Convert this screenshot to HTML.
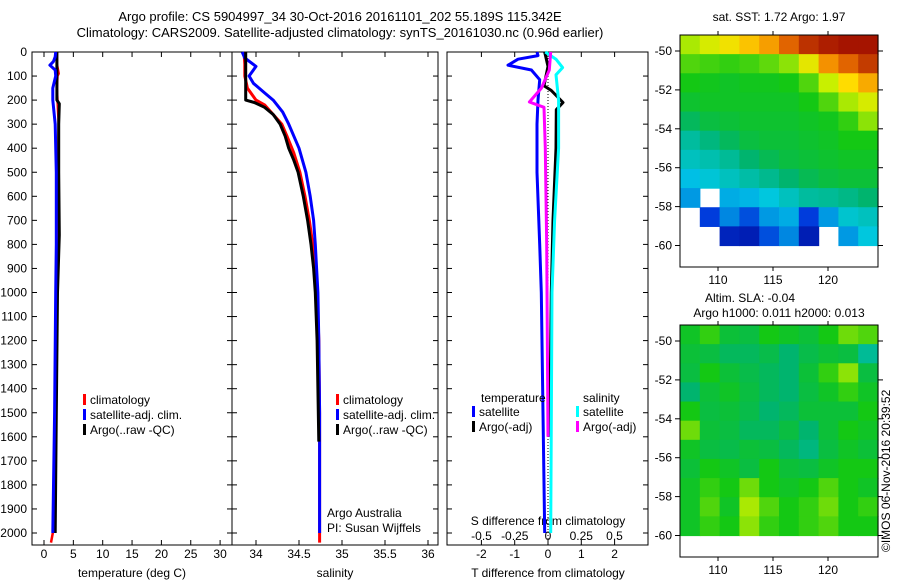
<!DOCTYPE html>
<html><head><meta charset="utf-8"><style>
body{margin:0;background:#fff;}
svg{display:block;font-family:"Liberation Sans",sans-serif;font-size:12px;}
</style></head><body>
<svg id="c" width="900" height="580" viewBox="0 0 900 580">
<text x="340" y="21" text-anchor="middle" font-size="13">Argo profile: CS 5904997_34 30-Oct-2016 20161101_202 55.189S 115.342E</text>
<text x="340" y="37" text-anchor="middle" font-size="13">Climatology: CARS2009. Satellite-adjusted climatology: synTS_20161030.nc (0.96d earlier)</text>
<text x="779" y="21" text-anchor="middle">sat. SST: 1.72 Argo: 1.97</text>
<text x="750" y="302" text-anchor="middle">Altim. SLA: -0.04</text>
<text x="779" y="317" text-anchor="middle">Argo h1000: 0.011 h2000: 0.013</text>
<text transform="translate(890,552) rotate(-90)">©IMOS 06-Nov-2016 20:39:52</text>
</svg>
<script>
// ---- data ----
const depthTicks=[0,100,200,300,400,500,600,700,800,900,1000,1100,1200,1300,1400,1500,1600,1700,1800,1900,2000];
const tempTicks=[0,5,10,15,20,25,30];
const salTicks=[34,34.5,35,35.5,36];
const salTickLabels=["34","34.5","35","35.5","36"];
const tdiffTicks=[-2,-1,0,1,2];
const sdiffTicks=[-0.5,-0.25,0,0.25,0.5];
const sdiffTickLabels=["-0.5","-0.25","0","0.25","0.5"];

const tClimD=[0,50,90,100,150,200,250,300,500,800,1000,1500,2000,2040];
const tClimV=[2.2,2.2,2.5,2.3,2.2,2.3,2.4,2.5,2.4,2.3,2.2,1.9,1.5,1.2];
const tSatD=[0,20,40,55,75,100,150,200,300,500,800,1000,1500,2000];
const tSatV=[2.0,1.9,1.6,1.0,1.9,2.0,1.5,1.5,1.9,2.1,2.1,2.0,1.8,1.5];
const tArgoD=[0,100,200,215,300,500,760,1000,1500,2000];
const tArgoV=[2.2,2.2,2.2,2.6,2.5,2.5,2.6,2.3,2.1,1.9];

const sClimD=[0,50,100,150,200,220,260,300,350,420,500,600,700,800,900,1000,1200,1500,2040];
const sClimV=[33.86,33.87,33.87,33.9,34.0,34.1,34.2,34.3,34.36,34.44,34.51,34.57,34.62,34.66,34.69,34.71,34.73,34.74,34.74];
const sSatD=[0,25,60,100,130,170,200,250,300,400,500,600,700,800,1000,1200,1500,2000];
const sSatV=[33.84,33.87,34.0,33.92,33.97,34.1,34.2,34.31,34.38,34.5,34.58,34.63,34.67,34.69,34.72,34.73,34.74,34.74];
const sArgoD=[0,100,200,210,230,260,300,350,400,450,500,600,700,800,900,1000,1200,1620];
const sArgoV=[33.88,33.88,33.88,33.98,34.1,34.2,34.28,34.34,34.38,34.44,34.49,34.55,34.6,34.64,34.67,34.69,34.71,34.73];

const dTSatD=[0,15,30,55,75,115,200,300,500,800,1000,1500,2000];
const dTSatV=[-0.33,-0.3,-0.9,-1.2,-0.5,-0.25,-0.3,-0.33,-0.33,-0.25,-0.2,-0.15,-0.1];
const dTArgoD=[0,60,140,160,210,240,400,700,1000,1600];
const dTArgoV=[-0.1,0,-0.12,0.1,0.45,0.25,0.24,0.15,0.1,0.05];
const dSSatD=[0,30,65,95,200,400,700,1000,2000];
const dSSatV=[-0.02,0.06,0.11,0.06,0.08,0.08,0.05,0.03,0.02];
const dSArgoD=[0,75,150,208,230,400,800,1600];
const dSArgoV=[0.02,0.01,-0.05,-0.14,-0.03,-0.02,-0.01,0];

const lonTicks=[110,115,120];
const latTicks=[-50,-52,-54,-56,-58,-60];
const sstGrid=[
[.7,.74,.78,.82,.85,.9,.95,.97,.98,.98],
[.64,.63,.62,.63,.65,.68,.76,.86,.9,.94],
[.6,.59,.58,.59,.59,.6,.64,.72,.8,.84],
[.57,.58,.58,.58,.58,.58,.6,.64,.7,.74],
[.52,.55,.56,.57,.57,.57,.58,.59,.62,.68],
[.44,.48,.52,.55,.56,.56,.57,.58,.6,.6],
[.4,.42,.45,.5,.53,.55,.56,.57,.58,.58],
[.34,.37,.4,.43,.46,.5,.53,.55,.56,.56],
[.3,null,.32,.33,.36,.4,.44,.45,.47,.5],
[null,.2,.28,.22,.3,.32,.2,.3,.38,.4],
[null,null,.12,.1,.22,.28,.1,null,.3,.36]];
const slaGrid=[
[.58,.62,.56,.55,.6,.58,.56,.6,.66,.64],
[.56,.55,.52,.52,.54,.5,.54,.56,.55,.45],
[.55,.6,.56,.54,.52,.5,.56,.62,.68,.55],
[.5,.56,.58,.55,.52,.5,.55,.58,.62,.58],
[.6,.55,.56,.54,.5,.52,.56,.56,.56,.6],
[.66,.56,.55,.52,.52,.55,.5,.56,.6,.58],
[.58,.55,.54,.56,.55,.52,.48,.55,.58,.56],
[.56,.6,.58,.55,.6,.56,.55,.58,.6,.6],
[.58,.62,.6,.66,.6,.58,.6,.64,.6,.58],
[.58,.64,.58,.7,.64,.6,.62,.66,.6,.62],
[.58,.62,.6,.68,.62,.6,.62,.64,.6,.6]];

// ---- drawing ----
const NS="http://www.w3.org/2000/svg";
const svg=document.getElementById('c');
function el(tag,attrs,parent){const e=document.createElementNS(NS,tag);for(const k in attrs)e.setAttribute(k,attrs[k]);(parent||svg).appendChild(e);return e;}
const yD=d=>52+d*0.2405;
const PB=545;

function frame(x0,x1,name){
  const r=el('rect',{x:x0,y:52,width:x1-x0,height:PB-52,fill:'none',stroke:'#000','stroke-width':1});
  
  
}
function xTicks(xf,vals,labels,ly,name){
  vals.forEach((v,i)=>{
    el('line',{x1:xf(v),x2:xf(v),y1:PB,y2:PB-5,stroke:'#000'});
    el('line',{x1:xf(v),x2:xf(v),y1:52,y2:57,stroke:'#000'});
    const t=el('text',{x:xf(v),y:ly,'text-anchor':'middle'});t.textContent=labels?labels[i]:String(v);
    
    
  });
}
function yTicks(x0,x1){depthTicks.forEach(d=>{el('line',{x1:x0,x2:x0+5,y1:yD(d),y2:yD(d),stroke:'#000'});el('line',{x1:x1,x2:x1-5,y1:yD(d),y2:yD(d),stroke:'#000'});});}
function line(xf,D,V,color,name,w,dash){
  const pts=D.map((d,i)=>xf(V[i]).toFixed(1)+','+yD(d).toFixed(1)).join(' ');
  const p=el('polyline',{points:pts,fill:'none',stroke:color,'stroke-width':w||3,'stroke-linejoin':'round'});
  if(dash)p.setAttribute('stroke-dasharray',dash);
  
  
}
function txt(x,y,s,name,anchor){const t=el('text',{x:x,y:y,'text-anchor':anchor||'start'});t.textContent=s;return t;}
function legend(x,y,color,s,name){el('rect',{x:x,y:y-10,width:3,height:11,fill:color});txt(x+7,y,s,name);}

// panel 1 temperature
const xT=v=>44+v*5.87;
frame(32,232,'temperature-panel');
depthTicks.forEach(d=>{txt(27,yD(d)+4,String(d),'depth-tick-label','end');});
yTicks(32,232);
xTicks(xT,tempTicks,null,558,'temperature-tick-label');
txt(132,577,'temperature (deg C)','temperature-axis-title','middle');
line(xT,tClimD,tClimV,'#f00','temp-climatology-line',2.5);
line(xT,tArgoD,tArgoV,'#000','temp-argo-line',3);
line(xT,tSatD,tSatV,'#00f','temp-satellite-line',3);
legend(83,404,'#f00','climatology','legend-climatology');
legend(83,419,'#00f','satellite-adj. clim.','legend-satellite-adj');
legend(83,434,'#000','Argo(..raw -QC)','legend-argo');

// panel 2 salinity
const xS=v=>256+(v-34)*86;
frame(232,438,'salinity-panel');
yTicks(232,438);
xTicks(xS,salTicks,salTickLabels,558,'salinity-tick-label');
txt(335,577,'salinity','salinity-axis-title','middle');
line(xS,sClimD,sClimV,'#f00','sal-climatology-line',3);
line(xS,sSatD,sSatV,'#00f','sal-satellite-line',3);
line(xS,sArgoD,sArgoV,'#000','sal-argo-line',3);
legend(336,404,'#f00','climatology','legend-climatology-2');
legend(336,419,'#00f','satellite-adj. clim.','legend-satellite-adj-2');
legend(336,434,'#000','Argo(..raw -QC)','legend-argo-2');
txt(327,517,'Argo Australia','argo-australia-label');
txt(327,532,'PI: Susan Wijffels','pi-label');

// panel 3 differences
const xDT=v=>548+v*33.3;
const xDS=v=>548+v*133;
frame(447,648,'difference-panel');
yTicks(447,648);
xTicks(xDT,tdiffTicks,null,558,'tdiff-tick-label');
sdiffTicks.forEach((v,i)=>{txt(xDS(v),540,sdiffTickLabels[i],'sdiff-tick-label','middle');});
txt(548,525,'S difference from climatology','sdiff-axis-title','middle');
txt(548,577,'T difference from climatology','tdiff-axis-title','middle');
line(xDT,[0,2040],[0,0],'#000','zero-line',1,'1,2');
line(xDT,dTSatD,dTSatV,'#00f','tdiff-satellite-line',3);
line(xDT,dTArgoD,dTArgoV,'#000','tdiff-argo-line',3);
line(xDS,dSSatD,dSSatV,'#0ff','sdiff-satellite-line',3);
line(xDS,dSArgoD,dSArgoV,'#f0f','sdiff-argo-line',3);
txt(481,402,'temperature','legend-temperature-heading');
txt(583,402,'salinity','legend-salinity-heading');
legend(472,416,'#00f','satellite','legend-tdiff-satellite');
legend(472,431,'#000','Argo(-adj)','legend-tdiff-argo');
legend(576,416,'#0ff','satellite','legend-sdiff-satellite');
legend(576,431,'#f0f','Argo(-adj)','legend-sdiff-argo');

// maps
function cmap(v){
  const stops=[[0,[0,0,140]],[.2,[0,60,220]],[.35,[0,200,230]],[.5,[0,180,110]],[.6,[20,200,20]],[.72,[200,240,0]],[.8,[255,220,0]],[.88,[240,120,0]],[1,[150,0,0]]];
  for(let i=1;i<stops.length;i++){if(v<=stops[i][0]){const a=stops[i-1],b=stops[i],t=(v-a[0])/(b[0]-a[0]);return 'rgb('+a[1].map((c,k)=>Math.round(c+(b[1][k]-c)*t)).join(',')+')';}}
  return 'rgb(150,0,0)';
}
function map(top,bot,grid,name){
  const lat0=-50,y50=top+16,ppd=19.45;
  const yL=l=>y50+(lat0-l)*ppd;
  const xL=l=>718+(l-110)*11;
  const latTop=lat0+(y50-top)/ppd;
  const rows=grid.length,cols=grid[0].length;
  const lonMin=(680-718)/11+110,lonMax=(878-718)/11+110;
  const dlat=(latTop+60)/rows,dlon=(lonMax-lonMin)/cols;
  grid.forEach((row,r)=>row.forEach((v,c)=>{
    if(v===null)return;
    const cell=el('rect',{x:xL(lonMin+c*dlon),y:yL(latTop-r*dlat),width:dlon*11+0.6,height:dlat*ppd+0.6,fill:cmap(v)});
    
    
  }));
  const f=el('rect',{x:680,y:top,width:198,height:bot-top,fill:'none',stroke:'#000'});
  
  
  latTicks.forEach(l=>{el('line',{x1:680,x2:675,y1:yL(l),y2:yL(l),stroke:'#000'});el('line',{x1:878,x2:883,y1:yL(l),y2:yL(l),stroke:'#000'});txt(672,yL(l)+4,String(l),name+'-lat-label','end');});
  lonTicks.forEach(l=>{el('line',{x1:xL(l),x2:xL(l),y1:bot,y2:bot+4,stroke:'#000'});el('line',{x1:xL(l),x2:xL(l),y1:top,y2:top-4,stroke:'#000'});txt(xL(l),bot+17,String(l),name+'-lon-label','middle');});
}
map(35,267,sstGrid,'sst-map');
map(325,557,slaGrid,'sla-map');
</script>
</body></html>
